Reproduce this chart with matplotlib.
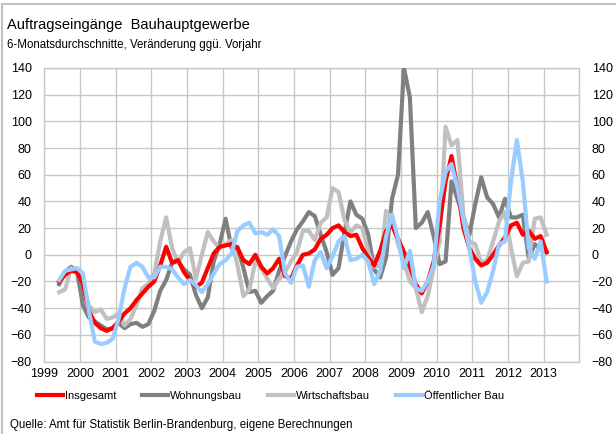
import numpy as np
import pandas as pd
import matplotlib
matplotlib.use("Agg")
import matplotlib.pyplot as plt
from matplotlib.patches import Rectangle

plt.rcParams["font.family"] = ["Liberation Sans", "DejaVu Sans"]

# two-month sampling, Jun 1999 .. Feb 2013
dates = pd.date_range("1999-06-01", "2013-02-01", freq="2MS")
x = dates.year + (dates.month - 1) / 12.0

insgesamt = [
    -20, -15, -12, -13,
    -22, -42, -51, -55, -57, -55,
    -50, -44, -40, -34, -29, -24,
    -20, -8, 6, -6, -4, -13,
    -19, -24, -21, -10, 1, 6,
    7, 8, 5, -4, -7, 0,
    -9, -14, -10, -3, -16, -18,
    -8, 0, 1, 4, 12, 15,
    20, 22, 17, 14, 15, 5,
    -2, -8, 3, 18, 22, 12,
    2, -9, -22, -29, -20, -5,
    22, 55, 74, 50, 20, 5,
    -3, -8, -6, 0, 7, 13,
    22, 24, 15, 18, 12, 14,
    2,
]
wohnungsbau = [
    -22, -13, -9, -12,
    -38, -47, -50, -53, -56, -55,
    -51, -55, -52, -51, -54, -52,
    -42, -27, -19, -6, -5, -11,
    -15, -30, -40, -32, -5, 8,
    27, 5, 6, -10, -28, -27,
    -36, -31, -27, -12, -1, 10,
    19, 25, 32, 29, 15, 2,
    -15, -10, 17, 40, 30, 27,
    15, -11, -17, -2, 42, 60,
    140, 118, 20, 24, 32, 14,
    -7, -5, 55, 42, 28, 15,
    38, 58, 43, 38, 28, 42,
    28, 28, 30, -3, 8, 4,
    2,
]
wirtschaftsbau = [
    -28, -26, -10, -12,
    -22, -38, -43, -41, -48, -47,
    -44, -53, -48, -38, -25, -22,
    -14, 10, 28, 5, -6, 2,
    5, -18, 0, 17, 10, 5,
    8, 11, -8, -31, -26, -5,
    -10, -18, -25, -18, -13, -5,
    2, 18, 18, 11, 24, 28,
    50, 47, 26, 17, 22, 20,
    2, -9, -8, 33, 25, 8,
    -5, -20, -25, -43, -31, -10,
    10, 96, 82, 86, 30, 10,
    8, -6, -4, 10, 25, 32,
    5, -16, -6, -5, 27, 28,
    15,
]
oeffentlich = [
    -19, -12, -11, -10,
    -14, -42, -65, -67, -66, -63,
    -48, -25, -9, -6, -9, -17,
    -17, -9, -9, -11, -17, -22,
    -19, -23, -28, -22, -14, -7,
    -4, 1, 18, 22, 24, 16,
    17, 15, 19, 14, -14, -21,
    -9, -8, -24, -4, 2, -10,
    -1, 10, 14, -4, -3, 0,
    -5, -22, -12, 14, 30, 12,
    -10, 3, -25, -27, -20, -8,
    40, 62, 68, 50, 26, 5,
    -20, -36, -28, -12, 8, 10,
    55, 86, 55, 5, -3, 10,
    -20,
]

years = list(range(1999, 2015))
yticks = list(range(-80, 141, 20))

fig = plt.figure(figsize=(6.16, 4.34), dpi=100)
ax = fig.add_axes([44.3 / 616, 1 - 361.5 / 434, 535 / 616, 293.5 / 434])

grid_col = "#c8c8c8"
lw = 3.0
ax.plot(x, wohnungsbau, color="#808080", lw=lw, label="Wohnungsbau", zorder=3)
ax.plot(x, wirtschaftsbau, color="#c0c0c0", lw=lw, label="Wirtschaftsbau", zorder=3)
ax.plot(x, insgesamt, color="#ff0000", lw=lw, label="Insgesamt", zorder=4)
ax.plot(x, oeffentlich, color="#99ccff", lw=lw, label="Öffentlicher Bau", zorder=5)

ax.set_xlim(1999, 2014)
ax.set_ylim(-80, 140)
ax.set_xticks(years)
ax.set_xticklabels([str(y) for y in years[:-1]] + [""])
ax.set_yticks(yticks)
ax.grid(True, color=grid_col, lw=1.0)
ax.set_axisbelow(True)
for s in ax.spines.values():
    s.set_color(grid_col)
    s.set_linewidth(1.0)
ax.tick_params(axis="both", length=0, labelsize=9, colors="black")
ax.tick_params(axis="y", pad=9)
ax.tick_params(axis="x", pad=5)

ax2 = ax.twinx()
ax2.set_ylim(-80, 140)
ax2.set_yticks(yticks)
ax2.tick_params(axis="y", length=0, labelsize=9, pad=9)
for s in ax2.spines.values():
    s.set_visible(False)

fig.text(7 / 616, 1 - 25 / 434, "Auftragseingänge  Bauhauptgewerbe",
         fontsize=10.5, va="center", ha="left")
fig.text(7 / 616, 1 - 45 / 434, "6-Monatsdurchschnitte, Veränderung ggü. Vorjahr",
         fontsize=8.3, va="center", ha="left")
fig.text(10 / 616, 1 - 425 / 434,
         "Quelle: Amt für Statistik Berlin-Brandenburg, eigene Berechnungen",
         fontsize=8.3, va="center", ha="left")

handles, labels = ax.get_legend_handles_labels()
order = [2, 0, 1, 3]
fs = 8.0
px = fs * 100 / 72
fig.legend([handles[i] for i in order], [labels[i] for i in order],
           loc="center left", bbox_to_anchor=(37 / 616, 1 - 396 / 434),
           ncol=4, frameon=False, fontsize=fs, borderpad=0, borderaxespad=0,
           handlelength=26 / px, handletextpad=2 / px, columnspacing=26 / px)

# outer frame (only top and left edges fall inside the canvas)
fig.patches.append(Rectangle((2 / 616, -0.5), 2, 1.5 - 4 / 434,
                             transform=fig.transFigure, fill=False,
                             edgecolor="#c0c0c0", lw=1.5))

fig.savefig("out.png", dpi=100)
